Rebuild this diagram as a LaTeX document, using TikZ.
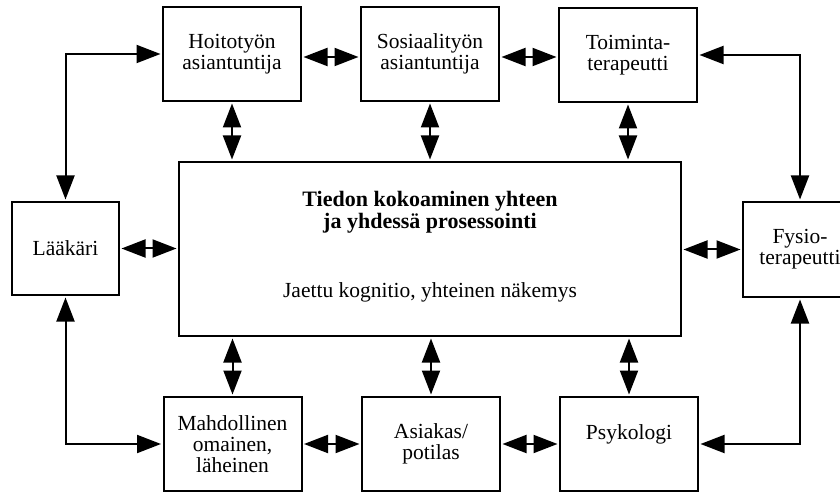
\documentclass[tikz,border=0pt]{standalone}
\usepackage{fontspec}
\setmainfont{Liberation Serif}
\usetikzlibrary{arrows.meta,calc}
\begin{document}
\begin{tikzpicture}[x=1pt,y=-1pt,
  txt/.style={font=\fontsize{21.5}{21}\selectfont, align=center, inner sep=0pt},
  box/.style={txt, draw, line width=2pt, minimum width=138pt, minimum height=94pt},
  link/.style={line width=2pt, {Triangle[length=24pt,width=18pt]}-{Triangle[length=24pt,width=18pt]}, shorten <=1.5pt, shorten >=1.5pt}]
\useasboundingbox (0,0) rectangle (840,494);
\fill[white] (0,0) rectangle (840,494);
% top row
\node[box] (hoi) at (232,54) {Hoitotyön\\asiantuntija};
\node[box] (sos) at (430,54) {Sosiaalityön\\asiantuntija};
\node[box] (toi) at (628,55) {Toiminta-\\terapeutti};
% side boxes
\node[box, minimum width=107pt, minimum height=93pt] (laa) at (65.5,248.5) {Lääkäri};
\node[box, minimum width=114pt, minimum height=95pt] (fys) at (800,249.5) {Fysio-\\terapeutti};
% centre
\node[draw, line width=2pt, minimum width=502pt, minimum height=174pt, inner sep=0pt] (cen) at (430,249) {};
\node[txt, font=\fontsize{22}{22}\selectfont\bfseries] (t1) at (430,212) {Tiedon kokoaminen yhteen\\ja yhdessä prosessointi};
\node[txt] (t2) at (430,292) {Jaettu kognitio, yhteinen näkemys};
% bottom row
\node[box] (mah) at (232.5,444) {Mahdollinen\\omainen,\\läheinen};
\node[box] (asi) at (431,444) {Asiakas/\\potilas};
\node[box] (psy) at (629,444) {Psykologi\\[2pt]};
% connectors top row
\draw[link] ($(hoi.east)+(0,3)$) -- ($(sos.west)+(0,3)$);
\draw[link] ($(sos.east)+(0,3)$) -- ($(toi.west)+(0,2)$);
\draw[link] (laa.north) |- (hoi.west);
\draw[link] (toi.east) -| (fys.north);
% verticals to centre
\draw[link] (hoi.south) -- (hoi.south |- cen.north);
\draw[link] (sos.south) -- (sos.south |- cen.north);
\draw[link] (toi.south) -- (toi.south |- cen.north);
\draw[link] (mah.north) -- (mah.north |- cen.south);
\draw[link] (asi.north) -- (asi.north |- cen.south);
\draw[link] (psy.north) -- (psy.north |- cen.south);
% sides to centre
\draw[link] (laa.east) -- (laa.east -| cen.west);
\draw[link] (fys.west) -- (fys.west -| cen.east);
% bottom row
\draw[link] (mah.east) -- (asi.west);
\draw[link] (asi.east) -- (psy.west);
\draw[link] (laa.south) |- (mah.west);
\draw[link] (psy.east) -| (fys.south);
\end{tikzpicture}
\end{document}
